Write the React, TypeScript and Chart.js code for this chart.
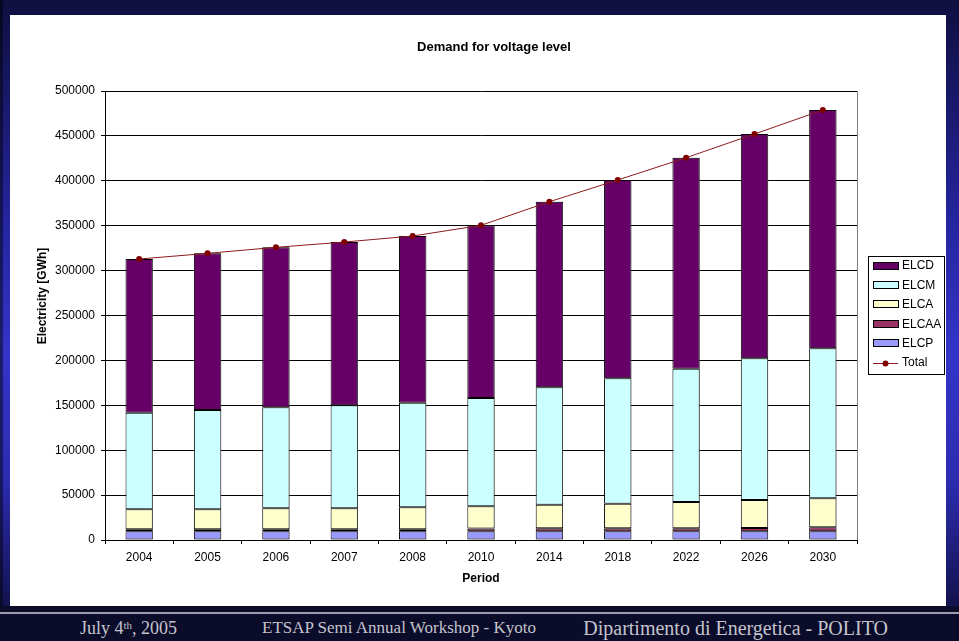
import React, { useEffect, useRef } from 'react';
import { Chart, registerables } from 'chart.js';

Chart.register(...registerables);

const years = ['2004', '2005', '2006', '2007', '2008', '2010', '2014', '2018', '2022', '2026', '2030'];
const elcp = [9700, 9700, 9700, 9700, 9700, 9800, 9800, 9800, 9800, 9800, 9800];
const elcaa = [2200, 2200, 2200, 2300, 2300, 3000, 3200, 3300, 3400, 3500, 4300];
const elca = [22300, 22300, 23400, 23300, 24400, 24700, 26300, 27300, 29100, 31200, 32300];
const elcm = [107600, 110600, 112400, 114700, 116500, 120600, 130700, 139600, 148500, 157800, 167000];
const elcd = [171100, 174400, 178200, 181800, 185600, 192300, 206700, 220900, 234900, 249800, 265400];
const total = [312900, 319200, 325900, 331800, 338500, 350400, 376700, 400900, 425700, 452100, 478800];

const TITLE = 'Demand for voltage level';
const X_TITLE = 'Period';
const Y_TITLE = 'Electricity [GWh]';
const FOOTER_DATE = 'July 4';
const FOOTER_SUP = 'th';
const FOOTER_YEAR = ', 2005';
const FOOTER_MID = 'ETSAP Semi Annual Workshop - Kyoto';
const FOOTER_RIGHT = 'Dipartimento di Energetica - POLITO';

const FONT = "'Liberation Sans', Arial, Helvetica, sans-serif";

export default function App() {
  const ref = useRef<HTMLCanvasElement>(null);

  useEffect(() => {
    const canvas = ref.current;
    if (!canvas) return;

    const overlay = {
      id: 'overlay',
      beforeDatasetDraw(chart: any, args: any) {
        if (args.meta.type === 'bar') {
          const ctx = chart.ctx;
          ctx.save();
          ctx.shadowColor = 'rgba(110,110,110,0.55)';
          ctx.shadowOffsetX = 2;
          ctx.shadowOffsetY = 0;
          ctx.shadowBlur = 0;
        }
      },
      afterDatasetDraw(chart: any, args: any) {
        if (args.meta.type === 'bar') chart.ctx.restore();
      },
      afterDraw(chart: any) {
        const ctx = chart.ctx;
        const ca = chart.chartArea;
        ctx.save();
        // plot area right border
        ctx.strokeStyle = '#808080';
        ctx.lineWidth = 1;
        ctx.beginPath();
        ctx.moveTo(Math.round(ca.right) + 0.5, ca.top);
        ctx.lineTo(Math.round(ca.right) + 0.5, ca.bottom);
        ctx.stroke();

        ctx.fillStyle = '#000';
        ctx.textAlign = 'center';
        ctx.textBaseline = 'middle';
        ctx.font = `bold 13px ${FONT}`;
        ctx.fillText(TITLE, 484, 32);
        ctx.font = `bold 12px ${FONT}`;
        ctx.fillText(X_TITLE, (ca.left + ca.right) / 2, 564);
        ctx.save();
        ctx.translate(33, 281);
        ctx.rotate(-Math.PI / 2);
        ctx.fillText(Y_TITLE, 0, 0);
        ctx.restore();

        // legend
        const ds = chart.data.datasets;
        const items = [...ds.filter((d: any) => d.type !== 'line').reverse(), ...ds.filter((d: any) => d.type === 'line')];
        const bx = 858.5, by = 241.5, bw = 76, bh = 118;
        ctx.fillStyle = '#fff';
        ctx.fillRect(bx, by, bw, bh);
        ctx.strokeStyle = '#000';
        ctx.lineWidth = 1;
        ctx.strokeRect(bx, by, bw, bh);
        ctx.font = `12px ${FONT}`;
        ctx.textAlign = 'left';
        items.forEach((d: any, i: number) => {
          const y = 250.5 + i * 19.4;
          if (d.type === 'line') {
            ctx.strokeStyle = d.borderColor;
            ctx.lineWidth = 1;
            ctx.beginPath();
            ctx.moveTo(863, Math.round(y) + 0.5);
            ctx.lineTo(888, Math.round(y) + 0.5);
            ctx.stroke();
            ctx.fillStyle = d.pointBackgroundColor;
            ctx.beginPath();
            ctx.arc(875.5, Math.round(y) + 0.5, 3, 0, Math.PI * 2);
            ctx.fill();
          } else {
            ctx.fillStyle = d.backgroundColor;
            ctx.fillRect(863.5, Math.round(y) - 3.5, 25, 7);
            ctx.strokeStyle = '#000';
            ctx.strokeRect(863.5, Math.round(y) - 3.5, 25, 7);
          }
          ctx.fillStyle = '#000';
          ctx.fillText(d.label, 892, y + 0.5);
        });
        ctx.restore();
      },
    };

    const barBase = {
      type: 'bar' as const,
      borderColor: '#000',
      borderWidth: 1,
      borderSkipped: false,
      stack: 'bars',
      order: 1,
      barPercentage: 0.4,
      categoryPercentage: 1,
    };

    const chart = new Chart(canvas, {
      type: 'bar',
      data: {
        labels: years,
        datasets: [
          { ...barBase, label: 'ELCP', data: elcp, backgroundColor: '#9999FF' },
          { ...barBase, label: 'ELCAA', data: elcaa, backgroundColor: '#993366' },
          { ...barBase, label: 'ELCA', data: elca, backgroundColor: '#FFFFCC' },
          { ...barBase, label: 'ELCM', data: elcm, backgroundColor: '#CCFFFF' },
          { ...barBase, label: 'ELCD', data: elcd, backgroundColor: '#660066' },
          {
            type: 'line',
            label: 'Total',
            data: total,
            stack: 'total',
            order: 0,
            borderColor: '#8B1A1A',
            borderWidth: 1,
            pointRadius: 3,
            pointBackgroundColor: '#800000',
            pointBorderColor: '#800000',
            pointBorderWidth: 0,
            tension: 0,
            fill: false,
          } as any,
        ],
      },
      options: {
        animation: false,
        responsive: false,
        devicePixelRatio: 1,
        layout: { padding: { left: 0, right: 89, top: 0, bottom: 0 } },
        plugins: {
          legend: { display: false },
          tooltip: { enabled: false },
          title: {
            display: true,
            text: ' ',
            color: 'rgba(0,0,0,0)',
            font: { size: 13, family: FONT },
            padding: { top: 0, bottom: 76 - 15.6 },
          },
        },
        scales: {
          x: {
            stacked: true,
            offset: true,
            afterFit(scale: any) {
              scale.height = 66;
            },
            grid: {
              display: true,
              drawOnChartArea: false,
              drawTicks: true,
              tickLength: 4,
              color: '#000',
              offset: true,
            },
            border: { display: true, color: '#000', width: 1 },
            ticks: {
              color: '#000',
              font: { size: 12, family: FONT },
              padding: 6,
              maxRotation: 0,
              autoSkip: false,
            },
          },
          y: {
            stacked: true,
            min: 0,
            max: 500000,
            afterFit(scale: any) {
              scale.width = 95;
            },
            grid: {
              color: '#000',
              lineWidth: 1,
              drawTicks: true,
              tickLength: 4,
            },
            border: { display: true, color: '#000', width: 1 },
            ticks: {
              stepSize: 50000,
              color: '#000',
              font: { size: 12, family: FONT },
              padding: 6,
              callback: (v: any) => String(v),
            },
          },
        },
      },
      plugins: [overlay],
    } as any);

    return () => chart.destroy();
  }, []);

  const footerText: React.CSSProperties = {
    position: 'absolute',
    top: 617,
    height: 22,
    lineHeight: '22px',
    fontFamily: "'Liberation Serif', 'Times New Roman', serif",
    color: '#c4c4cc',
    whiteSpace: 'nowrap',
  };

  return (
    <div
      style={{
        position: 'absolute',
        left: 0,
        top: 0,
        width: 959,
        height: 641,
        overflow: 'hidden',
        background:
          'linear-gradient(to bottom, #0f0f40 0%, #161660 12%, #2525a0 35%, #3434c8 55%, #2c2cb0 75%, #16165c 92%, #0a0a2a 100%)',
      }}
    >
      <div style={{ position: 'absolute', left: 0, top: 0, width: 3, height: 641, background: 'rgba(0,0,0,0.45)' }} />
      <div style={{ position: 'absolute', left: 10, top: 15, width: 936, height: 591, background: '#ffffff' }}>
        <canvas ref={ref} width={936} height={591} style={{ display: 'block', width: 936, height: 591 }} />
      </div>
      <div style={{ position: 'absolute', left: 0, top: 606, width: 959, height: 35, background: '#0b0b2a' }} />
      <div style={{ position: 'absolute', left: 0, top: 612, width: 959, height: 2, background: '#9c9cac' }} />
      <div style={{ ...footerText, left: 80, fontSize: 18 }}>
        {FOOTER_DATE}
        <sup style={{ fontSize: 11, verticalAlign: 'top', lineHeight: '16px' }}>{FOOTER_SUP}</sup>
        {FOOTER_YEAR}
      </div>
      <div style={{ ...footerText, left: 262, fontSize: 17 }}>{FOOTER_MID}</div>
      <div style={{ ...footerText, right: 71, fontSize: 20, textAlign: 'right' }}>{FOOTER_RIGHT}</div>
    </div>
  );
}
